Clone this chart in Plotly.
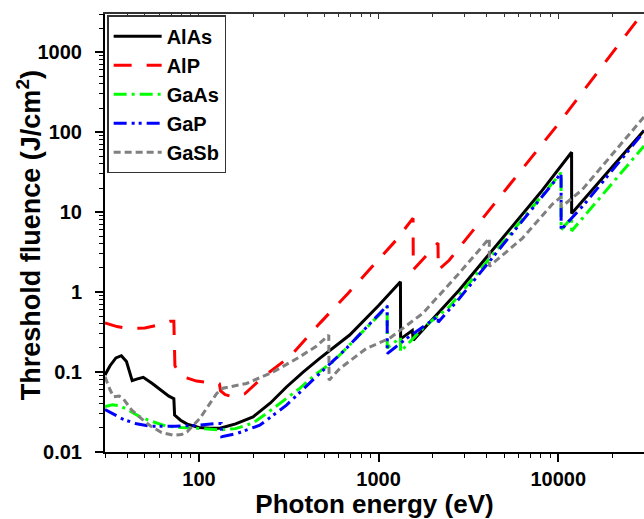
import math
import plotly.graph_objects as go

# ---------------- data ----------------
alas_e = [30, 32, 34.5, 37, 39.5, 42.5, 45.5, 49, 55, 62, 68, 72.5, 73.2, 79, 86, 100, 115, 131,
          160, 200, 250, 307, 380, 470, 690, 1000, 1323, 1326, 1540, 1560, 2000, 2812, 4000,
          6000, 8000, 11860, 11870, 16000, 22000, 30000]
alas_f = [0.092, 0.12, 0.15, 0.16, 0.135, 0.078, 0.082, 0.086, 0.072, 0.058, 0.05, 0.0465, 0.029,
          0.025, 0.0223, 0.0203, 0.0198, 0.0198, 0.0225, 0.0275, 0.041, 0.065, 0.1, 0.148, 0.29,
          0.68, 1.35, 0.26, 0.33, 0.25, 0.465, 1.06, 2.75, 8.2, 17.8, 56, 9.6, 20.7, 46.9, 105]

alp_e = [30, 35, 40, 45, 50, 57, 64, 69, 72.5, 73.5, 77, 85, 97, 113, 130, 132, 140, 155, 180,
         228, 320, 470, 675, 1253, 1555, 1560, 2140, 2150, 2470, 10070, 30000]
alp_f = [0.41, 0.37, 0.35, 0.35, 0.355, 0.38, 0.41, 0.43, 0.43, 0.12, 0.1, 0.085, 0.077, 0.073,
         0.071, 0.058, 0.052, 0.049, 0.0535, 0.087, 0.155, 0.406, 0.96, 4.47, 8.4, 1.9, 4.1,
         1.88, 2.5, 129, 3250]

gaas_e = [30, 33, 36, 40, 47, 55, 66, 80, 101, 131, 160, 200, 250, 300, 364, 450, 557, 800,
          1116, 1117, 1323, 1324, 1800, 2470, 5000, 10367, 10368, 11866, 11868, 14130, 20000, 30000]
gaas_f = [0.037, 0.039, 0.038, 0.034, 0.0275, 0.024, 0.021, 0.0202, 0.0197, 0.0189, 0.0196,
          0.0231, 0.033, 0.045, 0.0624, 0.095, 0.134, 0.307, 0.655, 0.2, 0.27, 0.18, 0.37, 0.65,
          4.3, 31, 6.0, 8.5, 5.8, 9.2, 23.1, 67]

gap_e = [30, 34, 38, 45, 54, 74, 100, 128, 133, 134, 162, 218, 307, 470, 661, 1100, 1116, 1117,
         1300, 1422, 2144, 2146, 2812, 9250, 10367, 10368, 12200, 13870, 30000]
gap_f = [0.034, 0.029, 0.0255, 0.0225, 0.021, 0.021, 0.0216, 0.0228, 0.0228, 0.0155, 0.017,
         0.0216, 0.0385, 0.096, 0.197, 0.655, 0.68, 0.17, 0.22, 0.26, 0.5, 0.42, 0.83, 21.8,
         30.6, 6.0, 8.9, 12.3, 101]

gasb_e = [30, 32, 33.5, 36, 38, 42, 48, 54, 62, 72, 80, 86, 101, 113, 125.6, 136, 184, 259, 364,
          450, 512, 528, 530, 607, 853, 1148, 1758, 2750, 4130, 4135, 6310, 9250, 10367, 10368,
          13580, 30000]
gasb_f = [0.087, 0.06, 0.049, 0.05, 0.046, 0.034, 0.026, 0.021, 0.0175, 0.0162, 0.0165, 0.0179,
          0.0262, 0.038, 0.054, 0.0627, 0.072, 0.1, 0.155, 0.21, 0.275, 0.29, 0.079, 0.11, 0.197,
          0.263, 0.54, 1.63, 4.7, 2.1, 4.7, 12.5, 15.5, 11.5, 19, 155]

x_ticks = [100, 1000, 10000]
x_tick_labels = ["100", "1000", "10000"]
y_ticks = [0.01, 0.1, 1, 10, 100, 1000]
y_tick_labels = ["0.01", "0.1", "1", "10", "100", "1000"]

# ---------------- figure ----------------
FONT = "Arial, Liberation Sans, sans-serif"
series = [
    ("AlAs", alas_e, alas_f, "#000000", "solid"),
    ("AlP", alp_e, alp_f, "#ff0000", "18px,15px"),
    ("GaAs", gaas_e, gaas_f, "#00ff00", "13px,5px,3px,5px"),
    ("GaP", gap_e, gap_f, "#0000ff", "13px,5px,3px,4px,3px,5px"),
    ("GaSb", gasb_e, gasb_f, "#808080", "7px,4px"),
]

fig = go.Figure()
for name, xs, ys, col, dash in series:
    fig.add_trace(go.Scatter(x=xs, y=ys, mode="lines", name=name,
                             line=dict(color=col, width=3, dash=dash)))

# dummy trace so that the top (mirror) axis is drawn
fig.add_trace(go.Scatter(x=[None], y=[None], xaxis="x2", yaxis="y", showlegend=False,
                         hoverinfo="skip"))

xminor = [k * 10 ** n for n in range(1, 5) for k in range(2, 10)]
yminor = [k * 10.0 ** n for n in range(-2, 4) for k in range(2, 10)]
xrange_ = [math.log10(30), math.log10(30000)]
yrange_ = [math.log10(0.01), math.log10(3000)]

fig.update_layout(
    width=644, height=519,
    margin=dict(l=105, r=0, t=14, b=67),
    paper_bgcolor="white", plot_bgcolor="white",
    font=dict(family=FONT, color="black"),
    showlegend=True,
    legend=dict(x=0.004, y=0.997, xanchor="left", yanchor="top",
                bgcolor="white", bordercolor="#333333", borderwidth=1.5,
                font=dict(family=FONT, size=20, weight="bold", color="black"),
                itemwidth=48, tracegroupgap=0),
    xaxis=dict(type="log", range=xrange_, tickmode="array", tickvals=x_ticks,
               ticktext=x_tick_labels, ticks="outside", ticklen=8, tickwidth=1.5,
               tickcolor="black", showline=True, linewidth=2, linecolor="black",
               showgrid=False, zeroline=False,
               tickfont=dict(family=FONT, size=20, weight="bold"),
               minor=dict(tickmode="array", tickvals=xminor, ticks="outside", ticklen=4,
                          tickwidth=1.2, tickcolor="black", showgrid=False),
               title=dict(text="Photon energy (eV)", standoff=0,
                          font=dict(family=FONT, size=26, weight="bold"))),
    xaxis2=dict(type="log", range=xrange_, overlaying="x", side="top", anchor="y",
                tickmode="array", tickvals=x_ticks, showticklabels=False,
                ticks="inside", ticklen=5, tickwidth=1.2, tickcolor="#333333",
                showline=True, linewidth=1.5, linecolor="#333333", showgrid=False,
                zeroline=False,
                minor=dict(tickmode="array", tickvals=xminor, ticks="inside", ticklen=3,
                           tickwidth=1, tickcolor="#333333", showgrid=False)),
    yaxis=dict(type="log", range=yrange_, tickmode="array", tickvals=y_ticks,
               ticktext=y_tick_labels, ticks="outside", ticklen=8, tickwidth=1.5,
               tickcolor="black", showline=True, linewidth=2, linecolor="black",
               showgrid=False, zeroline=False, ticklabelstandoff=9,
               tickfont=dict(family=FONT, size=20, weight="bold"),
               minor=dict(tickmode="array", tickvals=yminor, ticks="outside", ticklen=4,
                          tickwidth=1.2, tickcolor="black", showgrid=False)),
    annotations=[dict(text="Threshold fluence (J/cm<sup>2</sup>)", textangle=-90,
                      xref="paper", yref="paper", x=0, y=0.495, xanchor="center",
                      yanchor="middle", xshift=-76, showarrow=False,
                      font=dict(family=FONT, size=27, weight="bold", color="black"))],
)

fig.write_html("out.html")
